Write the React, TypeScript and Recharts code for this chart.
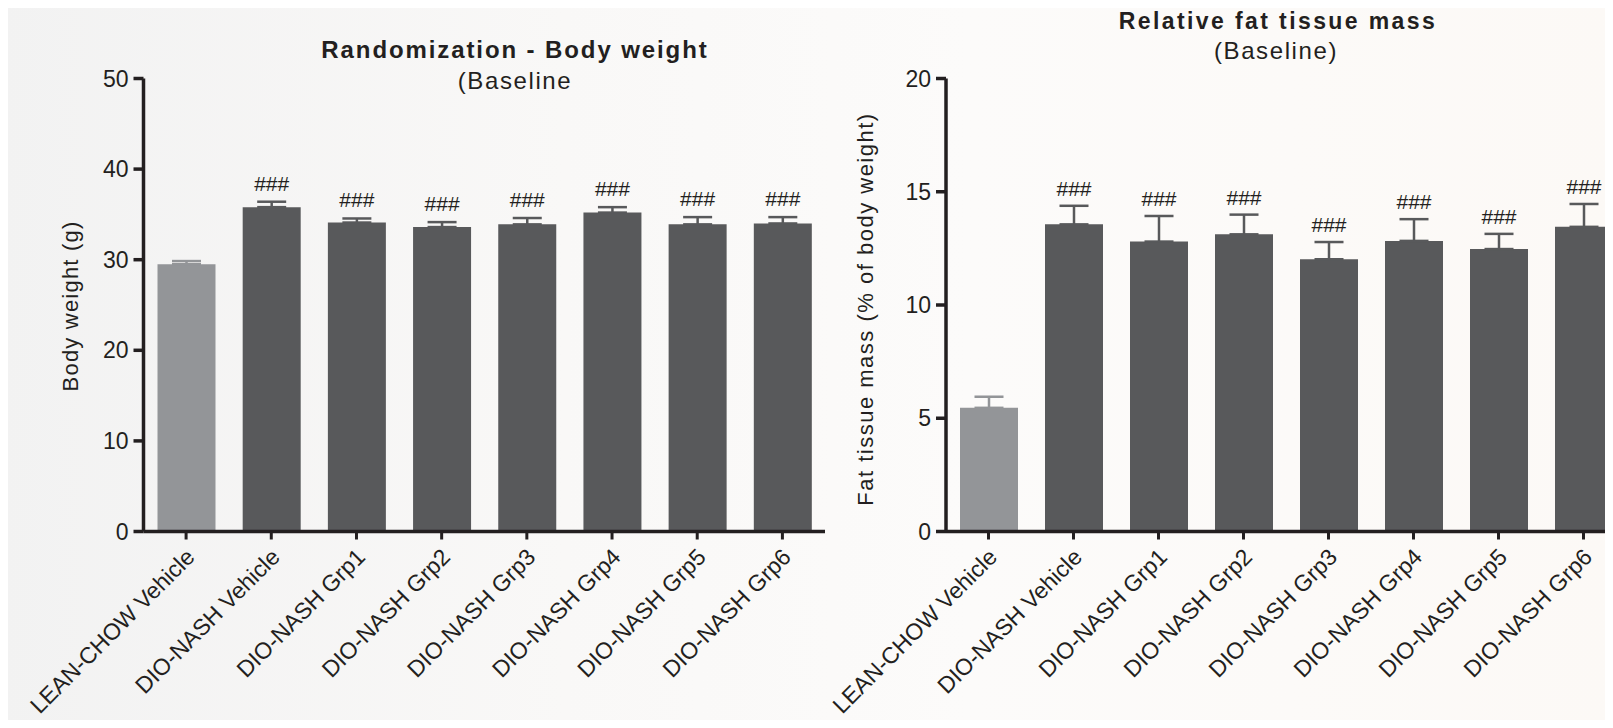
import { BarChart, Bar, XAxis, YAxis, ErrorBar, Cell, LabelList } from 'recharts';

// Treatment groups, left to right
const groups = [
  'LEAN-CHOW Vehicle',
  'DIO-NASH Vehicle',
  'DIO-NASH Grp1',
  'DIO-NASH Grp2',
  'DIO-NASH Grp3',
  'DIO-NASH Grp4',
  'DIO-NASH Grp5',
  'DIO-NASH Grp6',
];

// Body weight at randomization (g), mean and SEM
const bodyWeight = [29.5, 35.8, 34.1, 33.6, 33.9, 35.2, 33.9, 34.0];
const bodyWeightSem = [0.35, 0.6, 0.45, 0.55, 0.7, 0.6, 0.8, 0.7];

// Relative fat tissue mass (% of body weight), mean and SEM
const fatMass = [5.46, 13.56, 12.8, 13.12, 12.02, 12.83, 12.47, 13.45];
const fatMassSem = [0.49, 0.82, 1.13, 0.87, 0.76, 0.96, 0.67, 1.01];

// Significance vs LEAN-CHOW Vehicle
const significance = ['', '###', '###', '###', '###', '###', '###', '###'];

const bodyWeightTicks = [0, 10, 20, 30, 40, 50];
const fatMassTicks = [0, 5, 10, 15, 20];

const LEAN = '#939598';
const DIO = '#58595b';
const INK = '#231f20';
const FONT = '"Liberation Sans", Arial, Helvetica, sans-serif';

interface Row {
  name: string;
  value: number;
  sem: number;
  leanErr: [number, number] | null;
  dioErr: [number, number] | null;
  sig: string;
}

function buildRows(values: number[], sem: number[]): Row[] {
  return groups.map((name, i) => ({
    name,
    value: values[i],
    sem: sem[i],
    // only the upper whisker is drawn
    leanErr: i === 0 ? [0, sem[i]] : null,
    dioErr: i === 0 ? null : [0, sem[i]],
    sig: significance[i],
  }));
}

const AngledTick = (props: any) => {
  const { x, y, payload } = props;
  return (
    <g transform={`translate(${x + 10},${y + 19})`}>
      <text
        x={0}
        y={0}
        textAnchor="end"
        transform="rotate(-45)"
        fontSize={23}
        fontFamily={FONT}
        fill={INK}
      >
        {payload.value}
      </text>
    </g>
  );
};

// "###" placed just above the error bar cap
const makeSigLabel = (rows: Row[], gap: number) => (props: any) => {
  const vb = props.viewBox ?? props;
  const row = rows[props.index];
  if (!row || !row.sig) return null;
  const x = vb.x ?? props.x;
  const y = vb.y ?? props.y;
  const w = vb.width ?? props.width;
  const h = Math.abs(vb.height ?? props.height);
  const capY = y - (h * row.sem) / row.value;
  return (
    <text
      x={x + w / 2}
      y={capY - gap}
      textAnchor="middle"
      fontSize={21}
      fontFamily={FONT}
      fill={INK}
    >
      {row.sig}
    </text>
  );
};

interface PanelProps {
  rows: Row[];
  max: number;
  ticks: number[];
  marginLeft: number;
  marginRight: number;
  gap: number;
}

function Panel({ rows, max, ticks, marginLeft, marginRight, gap }: PanelProps) {
  return (
    <BarChart
      width={840}
      height={728}
      data={rows}
      barSize={58}
      margin={{ top: 78.5, right: marginRight, bottom: 6.5, left: marginLeft }}
    >
      <XAxis
        dataKey="name"
        interval={0}
        height={190}
        tickSize={8}
        tickMargin={0}
        tick={<AngledTick />}
        axisLine={{ stroke: INK, strokeWidth: 3.5 }}
        tickLine={{ stroke: INK, strokeWidth: 3 }}
      />
      <YAxis
        width={60}
        domain={[0, max]}
        ticks={ticks}
        interval={0}
        tickSize={10}
        tickMargin={5}
        tick={{ fill: INK, fontSize: 23, fontFamily: FONT }}
        axisLine={{ stroke: INK, strokeWidth: 3.5 }}
        tickLine={{ stroke: INK, strokeWidth: 3.5 }}
      />
      <Bar dataKey="value" isAnimationActive={false}>
        {rows.map((r, i) => (
          <Cell key={r.name} fill={i === 0 ? LEAN : DIO} />
        ))}
        <ErrorBar dataKey="leanErr" direction="y" width={14.5} stroke={LEAN} strokeWidth={2.5} />
        <ErrorBar dataKey="dioErr" direction="y" width={14.5} stroke={DIO} strokeWidth={2.5} />
        <LabelList dataKey="sig" content={makeSigLabel(rows, gap)} />
      </Bar>
    </BarChart>
  );
}

const bodyRows = buildRows(bodyWeight, bodyWeightSem);
const fatRows = buildRows(fatMass, fatMassSem);

export default function App() {
  const textStyle = { fontFamily: FONT, fill: INK };
  return (
    <div
      style={{
        position: 'relative',
        width: 1613,
        height: 728,
        margin: -8,
        overflow: 'hidden',
        background: 'linear-gradient(90deg, #f2f2f2 0%, #f9f8f7 35%, #fcfbfa 60%, #fcf9f6 100%)',
      }}
    >
      <div style={{ position: 'absolute', left: 0, top: 0 }}>
        <Panel
          rows={bodyRows}
          max={50}
          ticks={bodyWeightTicks}
          marginLeft={83.5}
          marginRight={15}
          gap={11}
        />
      </div>
      <div style={{ position: 'absolute', left: 800, top: 0 }}>
        <Panel
          rows={fatRows}
          max={20}
          ticks={fatMassTicks}
          marginLeft={86}
          marginRight={14}
          gap={10}
        />
      </div>
      <svg
        width={1613}
        height={728}
        style={{ position: 'absolute', left: 0, top: 0, pointerEvents: 'none' }}
      >
        <text x={515} y={57.5} textAnchor="middle" fontSize={24} fontWeight="bold" letterSpacing={1.9} {...textStyle}>
          Randomization - Body weight
        </text>
        <text x={515} y={88.5} textAnchor="middle" fontSize={24} letterSpacing={1.6} {...textStyle}>
          (Baseline
        </text>
        <text x={1278} y={28.5} textAnchor="middle" fontSize={23} fontWeight="bold" letterSpacing={2.4} {...textStyle}>
          Relative fat tissue mass
        </text>
        <text x={1276} y={58.5} textAnchor="middle" fontSize={24} letterSpacing={1.6} {...textStyle}>
          (Baseline)
        </text>
        <text
          x={77.5}
          y={306}
          textAnchor="middle"
          fontSize={22}
          letterSpacing={1.2}
          transform="rotate(-90 77.5 306)"
          {...textStyle}
        >
          Body weight (g)
        </text>
        <text
          x={873}
          y={309}
          textAnchor="middle"
          fontSize={22}
          letterSpacing={1.5}
          transform="rotate(-90 873 309)"
          {...textStyle}
        >
          Fat tissue mass (% of body weight)
        </text>
      </svg>
    </div>
  );
}
